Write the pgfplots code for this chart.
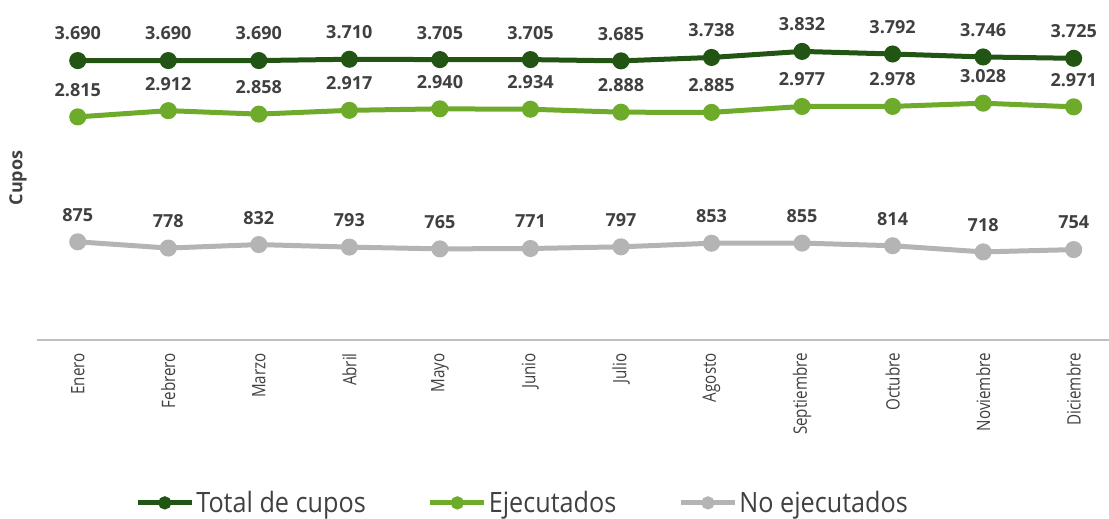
\documentclass[border=0pt]{standalone}
\usepackage{pgfplots}
\pgfplotsset{compat=1.18}
\usepackage{fontspec}
\setmainfont{Open Sans}
\newfontfamily\condfont[FakeStretch=0.82]{Open Sans}
\newfontfamily\legfont[FakeStretch=0.9]{Open Sans}
\definecolor{dgreen}{HTML}{225414}
\definecolor{lgreen}{HTML}{6EAB2A}
\definecolor{lgray}{HTML}{B4B4B4}
\definecolor{axgray}{HTML}{BEBEBE}
\definecolor{txt}{HTML}{404040}
\begin{document}
\begin{tikzpicture}
\path[use as bounding box] (0,0) rectangle (1109pt,519pt);
\begin{axis}[
  at={(37pt,179pt)}, anchor=south west,
  width=1072pt, height=320pt, scale only axis,
  xmin=-0.45, xmax=11.39, ymin=-650, ymax=4320,
  clip=false,
  hide y axis,
  axis x line*=bottom,
  x axis line style={draw=axgray, line width=2pt, -},
  xtick=data,
  xticklabels={Enero,Febrero,Marzo,Abril,Mayo,Junio,Julio,Agosto,Septiembre,Octubre,Noviembre,Diciembre},
  major tick length=0pt,
  xticklabel style={yshift=-13pt, rotate=90, anchor=east, font=\condfont\fontsize{18.5}{20}\selectfont, text=txt, inner sep=0pt},
  nodes near coords,
  every node near coord/.append style={anchor=center, yshift=27pt, font=\bfseries\fontsize{18}{20}\selectfont, text=txt},
  /pgf/number format/.cd, fixed, precision=0, 1000 sep={.}, assume math mode=true,
  /pgfplots/.cd,
  every axis plot/.append style={line width=5pt, mark=*, mark size=6pt},
  legend style={at={(axis description cs:0.453,-0.509)}, anchor=center, draw=none, fill=none,
    legend columns=3, font=\legfont\fontsize{28}{32}\selectfont, text=txt,
    /tikz/every even column/.append style={column sep=60pt}},
  legend image code/.code={\draw[#1, mark size=4pt, mark repeat=2, mark phase=2] plot coordinates {(0pt,0pt) (27pt,0pt) (54pt,0pt)};},
  legend cell align=left,
]
\addplot[color=dgreen] coordinates {(0,3690) (1,3690) (2,3690) (3,3710) (4,3705) (5,3705) (6,3685) (7,3738) (8,3832) (9,3792) (10,3746) (11,3725)};
\addlegendentry{Total de cupos}
\addplot[color=lgreen] coordinates {(0,2815) (1,2912) (2,2858) (3,2917) (4,2940) (5,2934) (6,2888) (7,2885) (8,2977) (9,2978) (10,3028) (11,2971)};
\addlegendentry{Ejecutados}
\addplot[color=lgray] coordinates {(0,875) (1,778) (2,832) (3,793) (4,765) (5,771) (6,797) (7,853) (8,855) (9,814) (10,718) (11,754)};
\addlegendentry{No ejecutados}
\end{axis}
\node[rotate=90, font=\bfseries\fontsize{18}{20}\selectfont, text=txt] at (18pt,341pt) {Cupos};
\end{tikzpicture}
\end{document}
